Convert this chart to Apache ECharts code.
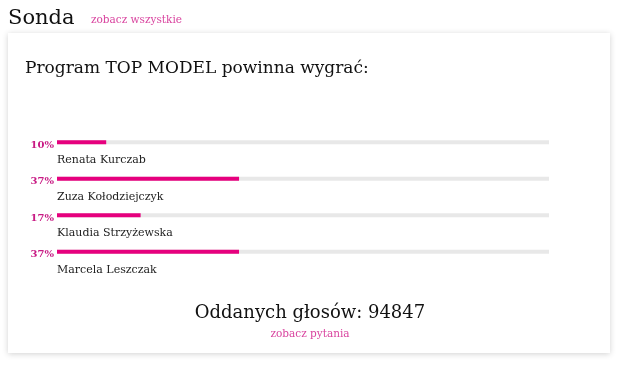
<!DOCTYPE html>
<html>
<head>
<meta charset="utf-8">
<script src="https://cdn.jsdelivr.net/npm/echarts@6/dist/echarts.min.js"></script>
<style>
  html, body { margin: 0; padding: 0; background: #fff; }
  #main { width: 620px; height: 368px; }
</style>
</head>
<body>
<div id="main"></div>
<script>
var kandydatki = ["Renata Kurczab", "Zuza Kołodziejczyk", "Klaudia Strzyżewska", "Marcela Leszczak"];
var procenty = [10, 37, 17, 37];
var glosy = 94847;

var pink = "#e6007e";
var linkPink = "#d9449f";
var serif = "'DejaVu Serif', serif";

var myChart = echarts.init(document.getElementById("main"));
myChart.setOption({
  animation: false,
  backgroundColor: "#fff",
  graphic: [
    {
      type: "rect",
      z: -10,
      shape: { x: 8, y: 33, width: 602, height: 320 },
      style: { fill: "#fff", shadowBlur: 6, shadowColor: "rgba(0,0,0,0.18)", shadowOffsetY: 1 }
    }
  ],
  title: [
    { text: "Sonda", left: 3, top: 3, textStyle: { fontFamily: serif, fontSize: 21, fontWeight: "normal", color: "#111" } },
    { text: "zobacz wszystkie", left: 86, top: 10, textStyle: { fontFamily: serif, fontSize: 10.5, fontWeight: "normal", color: linkPink } },
    { text: "Program TOP MODEL powinna wygrać:", left: 20, top: 55, textStyle: { fontFamily: serif, fontSize: 17, fontWeight: "normal", color: "#111" } },
    { text: "Oddanych głosów: " + glosy, left: "center", top: 299, textStyle: { fontFamily: serif, fontSize: 18, fontWeight: "normal", color: "#111" } },
    { text: "zobacz pytania", left: "center", top: 324, textStyle: { fontFamily: serif, fontSize: 10.5, fontWeight: "normal", color: linkPink } }
  ],
  grid: { left: 57, width: 492, top: 124, height: 146 },
  xAxis: { type: "value", min: 0, max: 100, show: false },
  yAxis: {
    type: "category",
    inverse: true,
    data: kandydatki,
    axisLine: { show: false },
    axisTick: { show: false },
    splitLine: { show: false },
    axisLabel: {
      inside: true,
      interval: 0,
      showMinLabel: true,
      showMaxLabel: true,
      hideOverlap: false,
      margin: 0,
      align: "left",
      verticalAlign: "middle",
      lineHeight: 36,
      formatter: function (v) { return "\n" + v; },
      fontFamily: serif,
      fontSize: 11,
      color: "#222"
    }
  },
  series: [
    {
      type: "bar",
      data: procenty,
      barWidth: 4,
      itemStyle: { color: pink },
      showBackground: true,
      backgroundStyle: { color: "#e8e8e8" },
      label: {
        show: true,
        position: "left",
        distance: 3,
        offset: [0, 3],
        formatter: "{c}%",
        fontFamily: serif,
        fontSize: 10,
        fontWeight: "bold",
        color: "#c81b84"
      }
    }
  ]
});
</script>
</body>
</html>
